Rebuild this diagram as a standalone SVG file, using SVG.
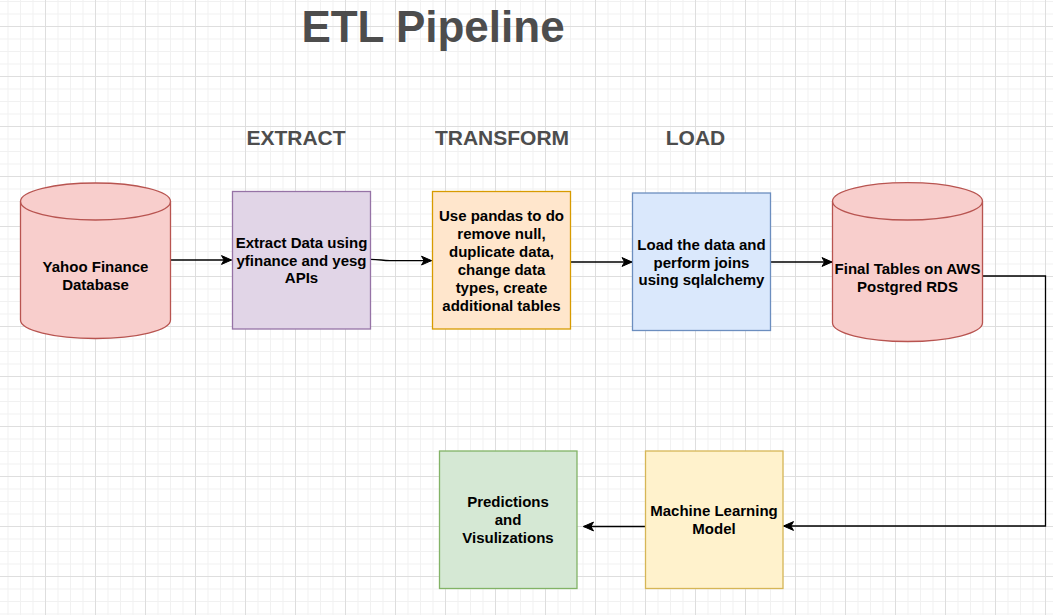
<svg xmlns="http://www.w3.org/2000/svg" width="1053" height="615" viewBox="0 0 1053 615">
<style>
  .lbl { font-family: "Liberation Sans", Arial, sans-serif; font-weight: bold; font-size: 15px; fill: #000; text-anchor: middle; }
  .hdr { font-family: "Liberation Sans", Arial, sans-serif; font-weight: bold; font-size: 21px; fill: #4d4d4d; text-anchor: middle; }
  .title { font-family: "Liberation Sans", Arial, sans-serif; font-weight: bold; font-size: 44px; fill: #4d4d4d; text-anchor: middle; }
  .edge { fill: none; stroke: #000; stroke-width: 1.3; }
  .minor { stroke: #f1f1f1; stroke-width: 1; }
  .major { stroke: #dedede; stroke-width: 1; }
</style>
<defs>
  <pattern id="grid" patternUnits="userSpaceOnUse" x="45" y="26" width="50" height="50">
    <path class="minor" d="M13,0 V50 M25.5,0 V50 M38,0 V50 M0,13 H50 M0,25.5 H50 M0,38 H50"/>
    <path class="major" d="M0.5,0 V50 M0,0.5 H50"/>
  </pattern>
  <marker id="arr" markerUnits="userSpaceOnUse" markerWidth="12" markerHeight="11" refX="10" refY="5" orient="auto" overflow="visible">
    <path d="M0,0.6 L10,5 L0,9.4 L2.6,5 Z" fill="#000" stroke="#000" stroke-width="1" stroke-linejoin="miter"/>
  </marker>
</defs>
<rect width="1053" height="615" fill="#ffffff"/>
<rect width="1053" height="615" fill="url(#grid)"/>

<g id="title"><text class="title" x="433" y="41.5">ETL Pipeline</text></g>
<g id="hdr-extract"><text class="hdr" x="296" y="145">EXTRACT</text></g>
<g id="hdr-transform"><text class="hdr" x="502" y="145">TRANSFORM</text></g>
<g id="hdr-load"><text class="hdr" x="695.5" y="145">LOAD</text></g>

<g id="connectors">
  <path class="edge" d="M170.5,260 H231.5" marker-end="url(#arr)"/>
  <path class="edge" d="M370.5,259.3 C380,259.3 382,260.6 390,260.6 H431.5" marker-end="url(#arr)"/>
  <path class="edge" d="M570.5,262 H632" marker-end="url(#arr)"/>
  <path class="edge" d="M770.5,262 H832" marker-end="url(#arr)"/>
  <path class="edge" d="M982.5,276 H1045.5 V526 H783.5" marker-end="url(#arr)"/>
  <path class="edge" d="M645.5,526.5 H583.5" marker-end="url(#arr)"/>
</g>

<g id="yahoo">
  <path d="M20.5,201.5 A75,18.5 0 0 1 170.5,201.5 V320 A75,18.5 0 0 1 20.5,320 Z" fill="#f8cecc" stroke="#b85450" stroke-width="1.3"/>
  <path d="M20.5,201.5 A75,18.5 0 0 0 170.5,201.5" fill="none" stroke="#b85450" stroke-width="1.3"/>
  <text class="lbl" x="95.5" y="271.5">Yahoo Finance</text>
  <text class="lbl" x="95.5" y="289.5">Database</text>
</g>

<g id="extract">
  <rect x="232.5" y="191.5" width="138" height="137.5" fill="#e1d5e7" stroke="#9673a6" stroke-width="1.3"/>
  <text class="lbl" x="301.5" y="247.5">Extract Data using</text>
  <text class="lbl" x="301.5" y="265.5">yfinance and yesg</text>
  <text class="lbl" x="301.5" y="283">APIs</text>
</g>

<g id="transform">
  <rect x="432.5" y="191.5" width="138" height="137.5" fill="#ffe6cc" stroke="#d79b00" stroke-width="1.3"/>
  <text class="lbl" x="501.5" y="221">Use pandas to do</text>
  <text class="lbl" x="501.5" y="239">remove null,</text>
  <text class="lbl" x="501.5" y="257">duplicate data,</text>
  <text class="lbl" x="501.5" y="275">change data</text>
  <text class="lbl" x="501.5" y="293">types, create</text>
  <text class="lbl" x="501.5" y="311">additional tables</text>
</g>

<g id="load">
  <rect x="632.5" y="193" width="138" height="137.5" fill="#dae8fc" stroke="#6c8ebf" stroke-width="1.3"/>
  <text class="lbl" x="701.5" y="250">Load the data and</text>
  <text class="lbl" x="701.5" y="267.5">perform joins</text>
  <text class="lbl" x="701.5" y="285">using sqlalchemy</text>
</g>

<g id="final">
  <path d="M832.5,201.3 A75,18.7 0 0 1 982.5,201.3 V322.8 A75,18.7 0 0 1 832.5,322.8 Z" fill="#f8cecc" stroke="#b85450" stroke-width="1.3"/>
  <path d="M832.5,201.3 A75,18.7 0 0 0 982.5,201.3" fill="none" stroke="#b85450" stroke-width="1.3"/>
  <text class="lbl" x="907.5" y="274">Final Tables on AWS</text>
  <text class="lbl" x="907.5" y="291.7">Postgred RDS</text>
</g>

<g id="ml">
  <rect x="645.5" y="451" width="137.5" height="137.5" fill="#fff2cc" stroke="#d6b656" stroke-width="1.3"/>
  <text class="lbl" x="714" y="516">Machine Learning</text>
  <text class="lbl" x="714" y="534">Model</text>
</g>

<g id="predictions">
  <rect x="439.5" y="451" width="137.5" height="137.5" fill="#d5e8d4" stroke="#82b366" stroke-width="1.3"/>
  <text class="lbl" x="508" y="507">Predictions</text>
  <text class="lbl" x="508" y="525">and</text>
  <text class="lbl" x="508" y="543">Visulizations</text>
</g>
</svg>
